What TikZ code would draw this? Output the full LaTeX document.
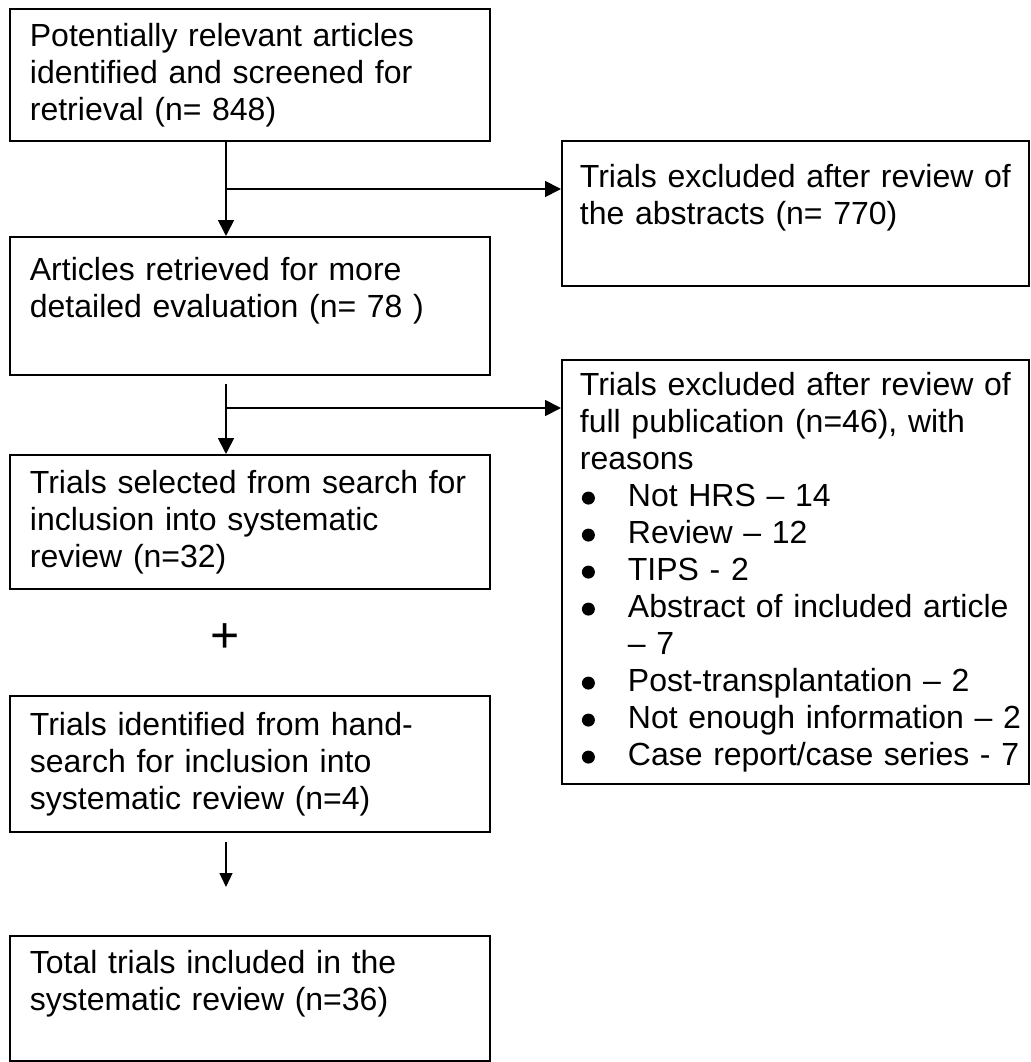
\documentclass[tikz,border=0pt]{standalone}
\usepackage{fontspec}
\setmainfont{Liberation Sans}
\usetikzlibrary{arrows.meta}

\tikzset{
  box/.style={draw, line width=1.8pt, anchor=north west, inner xsep=20pt, inner ysep=12pt, align=left, font=\fontsize{32pt}{37pt}\selectfont},
  leftbox/.style={box, text width=440pt},
  rightbox/.style={box, inner xsep=18pt, text width=431pt},
  flow/.style={line width=1.8pt, -{Triangle[width=16pt,length=16pt]}},
  thinflow/.style={line width=1.2pt, -{Triangle[width=13pt,length=14pt]}}
}
\newcommand{\bul}[1]{\par\hangindent=48pt\hangafter=1\noindent\makebox[48pt][l]{\hspace{2pt}\tikz[baseline={(0pt,-8pt)}]\fill (0pt,0pt) circle (6.5pt);}#1}

\begin{document}
\begin{tikzpicture}[x=1pt, y=-1pt]
        \useasboundingbox (0,0) rectangle (1030,1062);

        \node[leftbox, minimum height=132pt] (screen) at (9,8) {Potentially relevant articles\\ identified and screened for\\ retrieval (n= 848)};
        \node[rightbox, minimum height=145pt] (absex) at (561,140) {Trials excluded after review of\\ the abstracts (n= 770)\\ \mbox{}};
        \node[leftbox, minimum height=138pt] (fulleval) at (9,236) {Articles retrieved for more\\ detailed evaluation (n= 78 )\\ \mbox{}};
        \node[rightbox] (fullex) at (561,359) {\rightskip=-16pt plus 2em\relax
                Trials excluded after review of\\ full publication (n=46), with\\ reasons
                \bul{Not HRS – 14}
                \bul{Review – 12}
                \bul{TIPS - 2}
                \bul{Abstract of included article\newline – 7}
                \bul{Post-transplantation – 2}
                \bul{\mbox{Not enough information – 2}}
                \bul{\mbox{Case report/case series - 7}}\par};
        \node[leftbox, minimum height=134pt] (search) at (9,454) {Trials selected from search for\\ inclusion into systematic\\ review (n=32)};
        \node[font=\fontsize{50pt}{50pt}\selectfont, inner sep=0pt] (plus) at (225,638) {+};
        \node[leftbox, minimum height=136pt] (hand) at (9,695) {Trials identified from hand-\\ search for inclusion into\\ systematic review (n=4)};
        \node[leftbox, minimum height=125pt] (total) at (9,935) {Total trials included in the\\ systematic review (n=36)\\ \mbox{}};

        \coordinate (spine) at (226,0);
        \coordinate (fork1) at (226,189);
        \coordinate (fork2) at (226,408);

        \draw[flow] (screen.south -| spine) -- (fulleval.north -| spine);
        \draw[flow] (fork1) -- (fork1 -| absex.west);
        \draw[flow, shorten <=8pt] (fulleval.south -| spine) -- (search.north -| spine);
        \draw[flow] (fork2) -- (fork2 -| fullex.west);
        \draw[thinflow, shorten <=9pt, shorten >=48pt] (hand.south -| spine) -- (total.north -| spine);

\end{tikzpicture}
\end{document}
